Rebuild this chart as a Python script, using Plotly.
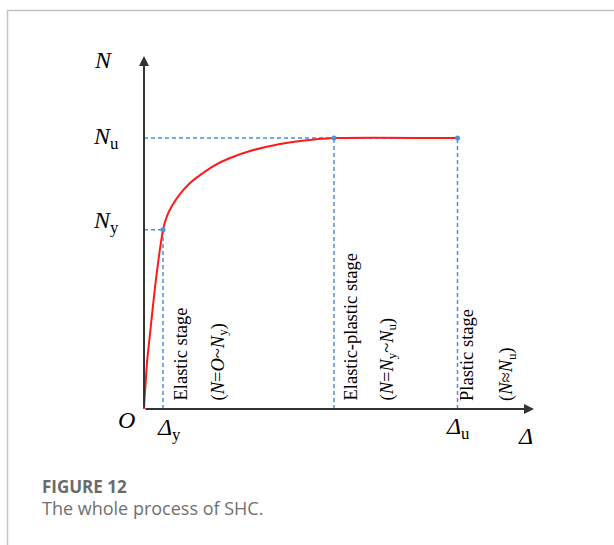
import plotly.graph_objects as go

# ---- data (normalised: displacement in units of Δy, load in % of Nu) ----
DISP = [0, 0.03, 0.08, 0.16, 0.32, 0.58, 0.79, 1.0, 1.21, 1.47, 1.89, 2.42, 2.95,
        3.74, 4.53, 5.58, 7.16, 8.21, 10.0, 16.5]
LOAD = [0, 4.1, 8.9, 17.3, 28.0, 45.0, 56.5, 66.1, 71.2, 74.9, 79.3, 83.4, 86.3,
        90.0, 92.6, 95.2, 97.8, 98.9, 100.0, 100.0]
DELTA_Y = 1.0
DELTA_EP = 10.0
DELTA_U = 16.5
N_Y = 66.1
N_U = 100.0

W, H = 614, 545
# pixel geometry of the drawing area
OX, OY = 144, 409          # origin in px
SX, SY = 19.0, 2.71        # px per data unit
XR = [-OX / SX, (W - OX) / SX]
YR = [-(H - OY) / SY, OY / SY]

def dx(px):
    return (px - OX) / SX

def dy(py):
    return (OY - py) / SY

BLUE = "#4a8fe0"
RED = "#ff1a1a"
AX = "#333333"
SERIF = "Liberation Serif"
DASH = "4px,3px"

fig = go.Figure()

# dashed guide lines
guides = [
    ([0, DELTA_U], [N_U, N_U]),
    ([0, DELTA_Y], [N_Y, N_Y]),
    ([DELTA_Y, DELTA_Y], [0, N_Y]),
    ([DELTA_EP, DELTA_EP], [0, N_U]),
    ([DELTA_U, DELTA_U], [0, N_U]),
]
for gx, gy in guides:
    fig.add_trace(go.Scatter(x=gx, y=gy, mode="lines",
                             line=dict(color=BLUE, width=1.5, dash=DASH),
                             hoverinfo="skip", showlegend=False))

# curve
fig.add_trace(go.Scatter(x=DISP, y=LOAD, mode="lines",
                         line=dict(color=RED, width=2, shape="spline", smoothing=0.6),
                         showlegend=False))

# key points
fig.add_trace(go.Scatter(x=[DELTA_Y, DELTA_EP, DELTA_U], y=[N_Y, N_U, N_U], mode="markers",
                         marker=dict(color=BLUE, size=5), showlegend=False))

ann = []
# axes with arrows
ann.append(dict(x=dx(534), y=0, ax=0, ay=0, xref="x", yref="y", axref="x", ayref="y",
                text="", showarrow=True, arrowhead=2, arrowsize=1, arrowwidth=2,
                arrowcolor=AX, standoff=0, startstandoff=0))
ann.append(dict(x=0, y=dy(56), ax=0, ay=0, xref="x", yref="y", axref="x", ayref="y",
                text="", showarrow=True, arrowhead=2, arrowsize=1, arrowwidth=2,
                arrowcolor=AX, standoff=0, startstandoff=0))

def lab(x, y, text, size=24, xanchor="center", yanchor="middle"):
    ann.append(dict(x=x, y=y, xref="x", yref="y", text=text, showarrow=False,
                    xanchor=xanchor, yanchor=yanchor,
                    font=dict(family=SERIF, size=size, color="#000")))

lab(dx(103), dy(60), "<i>N</i>")
lab(dx(91), N_U, "<i>N</i><sub>u</sub>", xanchor="left")
lab(dx(91), N_Y + dy(222) - dy(230), "<i>N</i><sub>y</sub>", xanchor="left")
lab(dx(126), dy(420), "<i>O</i>")
lab(DELTA_Y + 0.3, dy(429), "<i>Δ</i><sub>y</sub>")
lab(DELTA_U, dy(428), "<i>Δ</i><sub>u</sub>")
lab(dx(525), dy(436), "<i>Δ</i>")

def vlab(x, text, size=18.5):
    ann.append(dict(x=x, y=dy(403), xref="x", yref="y", text=text, showarrow=False,
                    textangle=-90, xanchor="center", yanchor="bottom",
                    font=dict(family=SERIF, size=size, color="#000")))

vlab(dx(180), "Elastic stage")
vlab(dx(219), "(<i>N</i>=<i>O</i>~<i>N</i><sub>y</sub>)")
vlab(dx(350), "Elastic-plastic stage")
vlab(dx(388), "(<i>N</i>=<i>N</i><sub>y</sub>~<i>N</i><sub>u</sub>)")
vlab(dx(467), "Plastic stage")
vlab(dx(507), "(<i>N</i>≈<i>N</i><sub>u</sub>)")

# caption
ann.append(dict(x=40 / W, y=1 - 486 / H, xref="paper", yref="paper", text="<b>FIGURE 12</b>",
                showarrow=False, xanchor="left", yanchor="middle",
                font=dict(family="Open Sans", size=17, color="#6b6b6b")))
ann.append(dict(x=40 / W, y=1 - 508 / H, xref="paper", yref="paper",
                text="The whole process of SHC.",
                showarrow=False, xanchor="left", yanchor="middle",
                font=dict(family="Open Sans", size=18, color="#707070")))

shapes = [
    dict(type="line", xref="paper", yref="paper", x0=7 / W, x1=1, y0=1 - 10.5 / H, y1=1 - 10.5 / H,
         line=dict(color="#c4c4c4", width=1.5)),
    dict(type="line", xref="paper", yref="paper", x0=7.5 / W, x1=7.5 / W, y0=0, y1=1 - 10 / H,
         line=dict(color="#c4c4c4", width=1.5)),
]

fig.update_layout(
    width=W, height=H,
    margin=dict(l=0, r=0, t=0, b=0),
    paper_bgcolor="white", plot_bgcolor="white",
    xaxis=dict(range=XR, visible=False, fixedrange=True),
    yaxis=dict(range=YR, visible=False, fixedrange=True),
    annotations=ann, shapes=shapes, showlegend=False,
)

fig.write_html("out.html")
